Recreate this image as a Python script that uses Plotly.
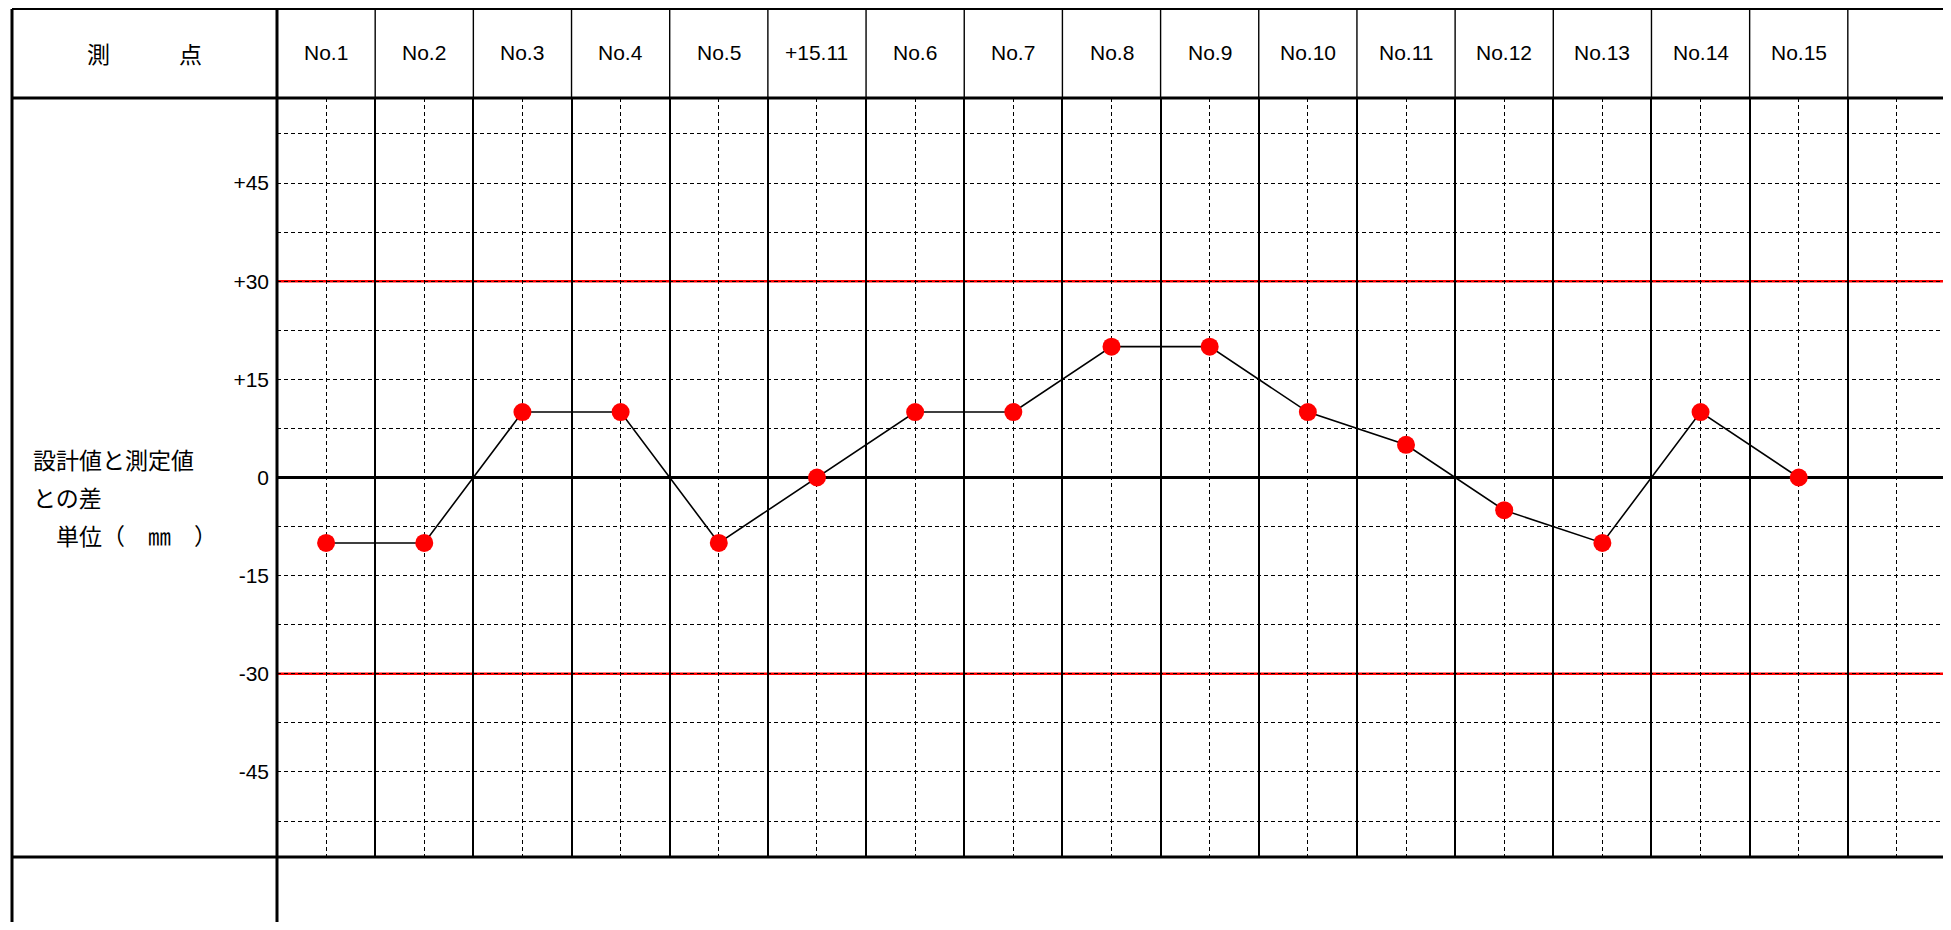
import plotly.graph_objects as go

# ---- data ----
categories = ["No.1", "No.2", "No.3", "No.4", "No.5", "+15.11", "No.6", "No.7",
              "No.8", "No.9", "No.10", "No.11", "No.12", "No.13", "No.14", "No.15", ""]
values = [-10, -10, 10, 10, -10, 0, 10, 10, 20, 20, 10, 5, -5, -10, 10, 0]
y_tickvals = [-45, -30, -15, 0, 15, 30, 45]
y_ticktext = ["-45", "-30", "-15", "0", "+15", "+30", "+45"]
limit_values = [30, -30]
header_title = "測　　　点"
ylabel_lines = ["設計値と測定値", "との差", "　単位（　㎜　）"]

# ---- layout geometry (figure pixels; page adds an 8px body margin) ----
OFF = 8
W, H = 1951 - OFF, 930 - 2 * OFF
L, R, T, B = 277 - OFF, 1946 - OFF, 98 - OFF, 857 - OFF
FRAME_L, FRAME_T = 12 - OFF, 0.9


def px_x(p):
    return (p - L) / (R - L)


def px_y(p):
    return (B - p) / (B - T)


x_idx = list(range(len(values)))

fig = go.Figure()
fig.add_trace(go.Scatter(
    x=x_idx, y=values, mode="lines+markers",
    line=dict(color="black", width=1.6),
    marker=dict(color="#ff0000", size=18, line=dict(width=0)),
    showlegend=False, hoverinfo="skip", cliponaxis=False,
))

shapes = []
# red limit lines
for v in limit_values:
    shapes.append(dict(type="line", xref="paper", yref="y", x0=0, x1=1, y0=v, y1=v,
                       line=dict(color="#ff0000", width=2.6), layer="below"))
# column boundaries inside header
n_cols = len(categories)
for i in range(1, n_cols):
    shapes.append(dict(type="line", xref="x", yref="paper", x0=i - 0.5, x1=i - 0.5,
                       y0=1, y1=px_y(FRAME_T), line=dict(color="black", width=1.4)))
# frame
frame = [
    (FRAME_L, FRAME_T, R, FRAME_T, 2),          # top border
    (FRAME_L, T, R, T, 3),                      # header bottom
    (FRAME_L, B, R, B, 3),                      # plot bottom
    (FRAME_L, FRAME_T, FRAME_L, H, 3),          # left border
    (L, FRAME_T, L, H, 3),                      # label column border
    (R, FRAME_T, R, H, 3),                      # right border
]
for x0, y0, x1, y1, w in frame:
    shapes.append(dict(type="line", xref="paper", yref="paper",
                       x0=px_x(x0), x1=px_x(x1), y0=px_y(y0), y1=px_y(y1),
                       line=dict(color="black", width=w)))

annotations = []
num_font = dict(family="Liberation Sans, Arial, sans-serif", size=21, color="black")
for i, c in enumerate(categories):
    if c:
        annotations.append(dict(x=i, y=px_y(53 - OFF), xref="x", yref="paper", text=c,
                                showarrow=False, xanchor="center", yanchor="middle",
                                font=num_font))
jp_font = dict(family="Noto Sans CJK JP, sans-serif", size=23, color="black")
annotations.append(dict(x=px_x(144 - OFF), y=px_y(53 - OFF), xref="paper", yref="paper",
                        text=header_title, showarrow=False, xanchor="center",
                        yanchor="middle", font=jp_font))
for k, line in enumerate(ylabel_lines):
    annotations.append(dict(x=px_x(31 - OFF), y=px_y(459 - OFF + 38 * k), xref="paper",
                            yref="paper", text=line, showarrow=False, xanchor="left",
                            yanchor="middle", font=jp_font))

fig.update_layout(
    width=W, height=H,
    margin=dict(l=L, r=W - R, t=T, b=H - B, pad=0),
    paper_bgcolor="white", plot_bgcolor="white",
    shapes=shapes, annotations=annotations,
    xaxis=dict(
        range=[-0.5, n_cols - 0.5], tickvals=list(range(n_cols)), showticklabels=False,
        ticks="", showgrid=True, gridcolor="black", gridwidth=1, griddash="4px,3px",
        zeroline=False, showline=False, fixedrange=True,
        minor=dict(tick0=0.5, dtick=1, showgrid=True, gridcolor="black", gridwidth=1.6,
                   griddash="solid", ticks=""),
    ),
    yaxis=dict(
        range=[-58, 58], tickvals=y_tickvals, ticktext=y_ticktext, ticks="",
        ticklabelstandoff=7,
        tickfont=dict(family="Liberation Sans, Arial, sans-serif", size=21, color="black"),
        showgrid=True, gridcolor="black", gridwidth=1, griddash="4px,3px",
        zeroline=True, zerolinecolor="black", zerolinewidth=2.5, showline=False,
        fixedrange=True,
        minor=dict(tick0=0, dtick=7.5, showgrid=True, gridcolor="black", gridwidth=1,
                   griddash="4px,3px", ticks=""),
    ),
)

fig.write_html("out.html")
